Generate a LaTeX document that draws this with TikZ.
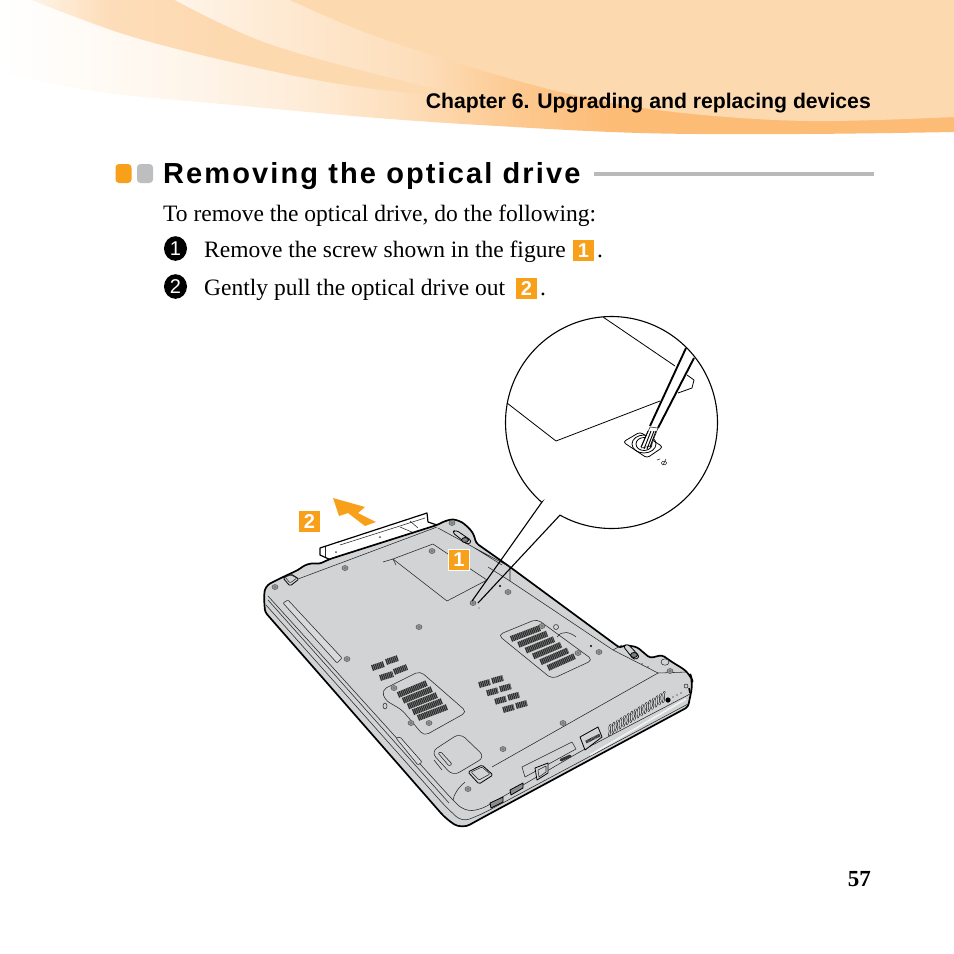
\documentclass[tikz,border=0pt]{standalone}
\usepackage{fontspec}
\setmainfont{Liberation Serif}
\newfontfamily\hsans{Liberation Sans}
\newfontfamily\titlesans[LetterSpace=7.3]{Liberation Sans}
\usetikzlibrary{calc}
\definecolor{peach}{HTML}{FDD9B0}
\definecolor{deepor}{HTML}{FDBC76}
\definecolor{tagor}{HTML}{F9A01B}
\definecolor{plate}{HTML}{D1D3D4}
\definecolor{ventc}{HTML}{2E2E2E}
\pgfdeclarehorizontalshading{banA}{100bp}{color(0bp)=(white); color(25bp)=(white); color(33bp)=(white!80!peach); color(41bp)=(white!50!peach); color(46bp)=(white!15!peach); color(51bp)=(peach!55!deepor); color(57bp)=(deepor); color(100bp)=(deepor)}
\pgfdeclarehorizontalshading{banB}{100bp}{color(0bp)=(white!70!peach); color(25bp)=(white!70!peach); color(33bp)=(white!12!peach); color(45bp)=(peach); color(100bp)=(peach)}
\pgfdeclarehorizontalshading{banC}{100bp}{color(0bp)=(white!72!peach); color(25bp)=(white!72!peach); color(44bp)=(white!38!peach); color(62bp)=(white!12!peach); color(75bp)=(peach!50!deepor); color(100bp)=(peach!50!deepor)}
\tikzset{
  thinl/.style={line width=.55pt,draw=black!85,line join=round},
  medl/.style={line width=.8pt,draw=black,line join=round},
  thickl/.style={line width=1.7pt,draw=black,line join=round},
  body/.style={anchor=base west,inner sep=0pt,font=\fontsize{23.5}{23.5}\selectfont},
  tagbox/.style={fill=tagor,minimum size=20.5pt,inner sep=0pt,text=white,font=\hsans\bfseries\fontsize{20}{20}\selectfont},
}
\newcommand{\scr}[2]{\draw[line width=.5pt,draw=black!65,fill=plate!72!black] (#1,#2) circle[x radius=3pt,y radius=2.5pt];\fill[black!55] (#1,#2) circle[radius=1.1pt];}
\newcommand{\vrow}[4]{\draw[ventc,line width=6pt,dash pattern=on 1.3pt off .55pt] (#1,#2) -- (#3,#4);}
\begin{document}
\begin{tikzpicture}[x=1pt,y=-1pt]
\useasboundingbox (0,0) rectangle (954,954);
% banner
\path[shading=banA] (0,0) -- (0,72) -- plot[smooth,tension=.6] coordinates {(0,72) (100,92) (233,105) (365,117) (480,125) (640,133) (800,134) (954,132)} -- (954,0) -- cycle;
\path[shading=banB] (32,0) -- plot[smooth,tension=.6] coordinates {(32,0) (133,37) (267,70) (367,88) (500,102)} -- plot[smooth,tension=.6] coordinates {(500,102) (400,80) (267,43) (175,0)} -- cycle;
\path[shading=banC] (175,0) -- plot[smooth,tension=.6] coordinates {(175,0) (267,43) (400,80) (500,102)} -- (510,103) -- (510,76) -- plot[smooth,tension=.6] coordinates {(510,76) (480,68) (367,33) (290,0)} -- cycle;
\fill[peach] (290,0) -- plot[smooth,tension=.6] coordinates {(290,0) (367,33) (474,68) (574,95) (674,112) (807,121) (954,117)} -- (954,0) -- cycle;
\node[anchor=base east,inner sep=0pt,font=\hsans\bfseries\fontsize{21.2}{21}\selectfont] (chap) at (871,108) {Chapter 6. Upgrading and replacing devices};
% heading
\fill[tagor,rounded corners=3.5pt] (115.5,164) rectangle (131.5,183);
\fill[plate!90!black,rounded corners=3.5pt] (137,164) rectangle (153,183);
\node[anchor=base west,inner sep=0pt,font=\titlesans\bfseries\fontsize{29}{29}\selectfont] (title) at (163,183) {Removing the optical drive};
\fill[black!27] (594,172) rectangle (874,176);
\node[body] (intro) at (163,221) {To remove the optical drive, do the following:};
\fill[black] (175.5,248.5) circle[x radius=11.5pt,y radius=12.3pt];
\node[text=white,inner sep=0pt,font=\hsans\fontsize{20}{20}\selectfont] (n1) at (175.5,248.5) {1};
\node[body] (s1) at (204,257) {Remove the screw shown in the figure};
\node[tagbox] (t1) at (583.5,250.5) {1};
\node[body] at (597,257) {.};
\fill[black] (175.5,286.5) circle[x radius=11.5pt,y radius=12.3pt];
\node[text=white,inner sep=0pt,font=\hsans\fontsize{20}{20}\selectfont] (n2) at (175.5,286.5) {2};
\node[body] (s2) at (204,295) {Gently pull the optical drive out};
\node[tagbox] (t2) at (526.5,288.5) {2};
\node[body] at (540,295) {.};
\node[anchor=base east,inner sep=0pt,font=\bfseries\fontsize{23}{23}\selectfont] (pg) at (871,886) {57};
% optical drive
\draw[line width=1.2pt,draw=black,line join=round,fill=white] (320,548) -- (427,513) -- (428,522) -- (437,525) -- (437,532) -- (331,560) -- (320,555) -- cycle;
\draw[thinl] (325,547) -- (325,557);
\draw[thinl] (340,545) -- (425,518);
\draw[thinl] (410,521) -- (418,528) (400,527) -- (414,533);
\fill[black!70] (336,552) circle[radius=1pt] (380,537) circle[radius=1pt];
% laptop
\draw[thickl,fill=plate,rounded corners=3pt] (264,598) [rounded corners=6pt] -- (265,586) -- (283,577) [rounded corners=3pt] -- (298,570) -- (305,565) -- (313,563) -- (319,564) -- (330,559) -- (437,525) -- (445,521) -- (453,519) -- (462,522) -- (470,529) -- (474,535) -- (476,543) -- (510,567) -- (620,648) -- (625,645) -- (637,647) -- (650,658) -- (662,655) -- (672,662) [rounded corners=9pt] -- (690,673) -- (693,683) [rounded corners=3pt] -- (688,707) [rounded corners=9pt] -- (480,819) -- (462,829) -- (447,820) [rounded corners=3pt] -- (265,612) -- cycle;
\draw[thinl] (298,579) -- (437,527);
\draw[thinl,rounded corners=8pt] (268,596) -- (450,797) -- (464,811) -- (480,810) -- (583,750) -- (690,694);
\draw[thinl,rounded corners=8pt] (266,605) -- (445,806) -- (462,822) -- (482,814) -- (688,704);
\draw[white!70!plate,line width=1.6pt] (590,755) -- (686,699);
\draw[thinl] (268,600) -- (449,803);
% cover panel
\draw[thinl] (393,559) -- (433,544) -- (487,580) -- (447,601) -- cycle;
\draw[thinl] (383,562) -- (393,559) -- (396,565);
\draw[thinl] (438,528) -- (473,547) -- (510,567) (473,547) -- (502,565);
\draw[thinl] (510,567) -- (510,581) -- (613,650) -- (622,645) (613,650) -- (658,673) -- (688,672);
\draw[thinl] (488,567) -- (510,581);
% seam and port panel
\draw[thinl] (492,767) -- (658,673);
\draw[thinl] (525,777) -- (522,767) -- (572,742) -- (576,749);
\draw[thinl] (525,777) -- (576,749);
\draw[thinl] (465,782) .. controls (458,788) and (454,794) .. (453,800);
% slots
\draw[thinl,fill=plate!85!white,rounded corners=1pt] (283,603) -- (288,600) -- (342,658) -- (337,663) -- cycle;
\draw[thinl,fill=plate!85!white,rounded corners=1pt] (396,738) -- (400,737) -- (422,762) -- (418,765) -- cycle;
% doors
\draw[thinl,rounded corners=5pt] (498,635) -- (537,619) -- (593,660) -- (552,679) -- cycle;
\draw[thinl] (557,637) .. controls (562,630) and (570,632) .. (576,637);
\draw[thinl] (556,627) circle[radius=2.5pt];
\draw[thinl,rounded corners=5pt] (382,690) -- (420,671) -- (467,712) -- (424,736) -- (402,710) -- (385,700) -- cycle;
\draw[thinl] (385,706) circle[x radius=2pt,y radius=3pt];
\draw[thinl,rounded corners=7pt] (431,752) -- (460,733) -- (485,757) -- (453,776) -- cycle;
\draw[thinl,rounded corners=1pt] (438,753) -- (441,752) -- (452,764) -- (449,766) -- cycle;
\draw[thinl] (434,760) -- (442,770);
% vents
\foreach \t in {0,.2,.4,.6,.8,1} {\vrow{\fpeval{511+37*\t}}{\fpeval{639+29*\t}}{\fpeval{540+35*\t}}{\fpeval{628+28*\t}}}
\foreach \t in {0,.33,.67,1} {
  \vrow{\fpeval{479+24*\t}}{\fpeval{685+25*\t}}{\fpeval{490+24*\t}}{\fpeval{682+25*\t}}
  \vrow{\fpeval{492+24*\t}}{\fpeval{681+25*\t}}{\fpeval{503+24*\t}}{\fpeval{678+25*\t}}}
\foreach \t in {0,.25,.5,.75,1} {\vrow{\fpeval{398+20*\t}}{\fpeval{695+23*\t}}{\fpeval{427+20*\t}}{\fpeval{683+24*\t}}}
\foreach \t in {0,1} {\vrow{\fpeval{372+8*\t}}{\fpeval{668+10*\t}}{\fpeval{384+9*\t}}{\fpeval{664+10*\t}}
  \vrow{\fpeval{386+8*\t}}{\fpeval{662+10*\t}}{\fpeval{398+9*\t}}{\fpeval{658+9*\t}}}
% side vent slots
\foreach \i in {0,...,15} {
  \pgfmathsetmacro{\vx}{609+3.6*\i}\pgfmathsetmacro{\vy}{730-2.2*\i}
  \draw[black,line width=2pt,line cap=round] (\vx,\vy+5) .. controls (\vx+2.5,\vy+1) and (\vx-1,\vy-2) .. (\vx+1.5,\vy-5);
  \draw[plate,line width=1pt,line cap=round] (\vx,\vy+5) .. controls (\vx+2.5,\vy+1) and (\vx-1,\vy-2) .. (\vx+1.5,\vy-5);
}
% ports
\draw[medl,fill=plate] (580,737) -- (598,727) -- (602,737) -- (585,750) -- cycle;
\draw[ventc,line width=3pt,dash pattern=on .8pt off .5pt] (586,742) -- (600,735);
\draw[medl,fill=plate] (535,768) -- (548,763) -- (548,773) -- (537,780) -- cycle;
\draw[thinl] (538,770) -- (546,766) -- (546,772) -- (539,777) -- cycle;
\draw[black!80,line width=2.8pt,line cap=round] (561,760) -- (570,756);
\draw[medl,fill=black!45] (510,790) -- (523,783) -- (523,788) -- (511,795) -- cycle;
\draw[medl,fill=black!45] (490,803) -- (503,797) -- (503,802) -- (491,808) -- cycle;
% latches
\draw[medl,fill=plate,rounded corners=3pt] (452,532) -- (456,530) -- (472,541) -- (468,545) -- cycle;
\draw[medl,fill=plate!60!black] (465,540) circle[x radius=3.5pt,y radius=2.5pt];
\draw[medl,fill=plate,rounded corners=3pt] (623,646) -- (628,644) -- (640,657) -- (634,660) -- cycle;
\draw[medl,fill=plate!60!black] (634,655) circle[x radius=3.5pt,y radius=2.5pt];
\draw[thinl,fill=plate] (665,662) circle[x radius=4pt,y radius=3.2pt];
\fill[black] (668,700) circle[radius=2.6pt];
\fill[black] (673,697) circle[radius=.7pt] (677,695) circle[radius=.7pt] (681,693) circle[radius=.7pt];
\draw[thinl] (686,686) circle[radius=2pt];
\draw[black,line width=1.5pt] (689,688) -- (690,693);
\fill[black!70] (642,664) circle[radius=.8pt] (648,667) circle[radius=.8pt];
% feet
\draw[medl,fill=plate,rounded corners=1.5pt] (283,578) -- (291,574) -- (299,579) -- (290,586) -- cycle;
\draw[thinl,rounded corners=1pt] (285,577) -- (291,575) -- (297,578) -- (290,583) -- cycle;
\draw[medl,fill=plate,rounded corners=1.5pt] (468,772) -- (482,765) -- (493,775) -- (479,784) -- cycle;
\draw[thinl,rounded corners=1pt] (471,772) -- (482,767) -- (490,774) -- (479,780) -- cycle;
% screws
\foreach \sx/\sy in {275/587,345/568,432/551,419/627,347/659,394/688,429/723,411/723,468/789,452/523,508/592,542/626,578/653,599/652,563/723,503/749,670/671,473/603} {\scr{\sx}{\sy}}
\fill[black] (500,586) circle[radius=1.1pt] (591,646) circle[radius=1.1pt];
\fill[black!70] (479,608) circle[radius=.7pt];
% callout
\draw[line width=1.1pt,draw=black,line join=miter] (472,601) -- (542,502) -- plot[domain=131.2:479.1,samples=150,smooth] ({611.5+106*cos(\x)},{422.5+106*sin(\x)}) -- (478,603);
\draw[medl] (603,317) -- (675,366);
\draw[medl] (507,403) -- (556,441) -- (660,401);
\draw[medl] (687,375) -- (694,380) -- (692,388) -- (678,393);
% screw in circle
\draw[medl,rounded corners=3pt] (623,442) -- (640,432) -- (663,447) -- (647,458) -- cycle;
\draw[medl] (644,444) circle[x radius=12pt,y radius=9pt];
\draw[medl,fill=white] (644,444) circle[x radius=8pt,y radius=6.5pt];
% screwdriver
\fill[white] (685,348) -- (693,358) -- (658,428) -- (650,428) -- cycle;
\draw[line width=1.9pt,black] (686,348) -- (650,426);
\draw[line width=1.9pt,black] (694,358) -- (658,428);
\draw[thinl,fill=white] (650,427) -- (658,428) -- (651,446) -- (641,448) -- cycle;
\draw[black,line width=.9pt] (648,431) -- (641,447) (651,431) -- (644,449) (654,431) -- (647,449) (656,431) -- (650,447);
\draw[thinl] (660,459) -- (657,460);
\draw[thinl] (664,463) circle[x radius=2.6pt,y radius=1.8pt];
\draw[thinl] (666,459) -- (663,465);
% arrow and tags
\fill[tagor] (333,498) -- (365,507) -- (358,513) -- (376,522) -- (365,526) -- (348,513) -- (339,516) -- cycle;
\node[tagbox] (a2) at (309.5,521.5) {2};
\node[tagbox,draw=white,line width=1pt] (a1) at (459,560) {1};
\end{tikzpicture}
\end{document}
